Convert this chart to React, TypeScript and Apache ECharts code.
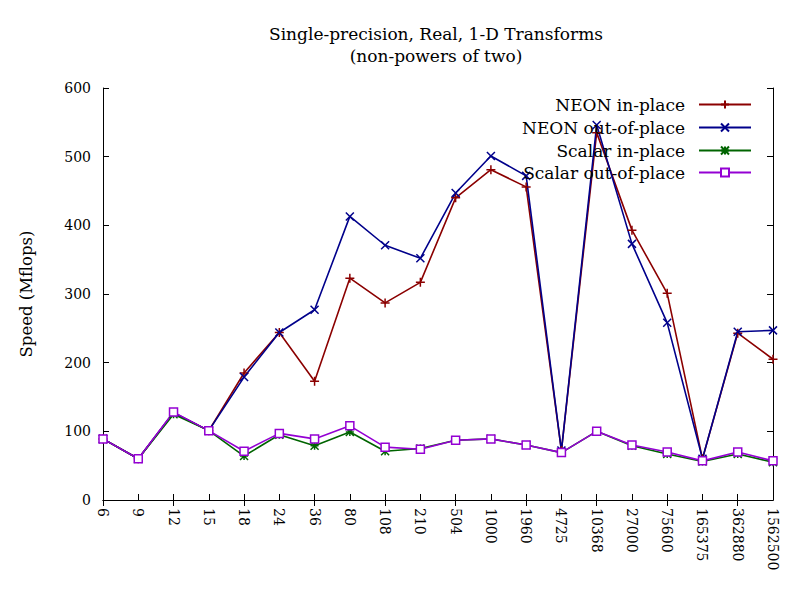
import React, { useEffect, useRef } from "react";
import * as echarts from "echarts";

const categories = ["6", "9", "12", "15", "18", "24", "36", "80", "108", "210", "504", "1000", "1960", "4725", "10368", "27000", "75600", "165375", "362880", "1562500"];
const neonInPlace = [89, 60, 127, 101, 185, 244, 173, 323, 287, 317, 440, 481, 456, 72, 535, 393, 301, 60, 243, 205];
const neonOutOfPlace = [89, 60, 127, 101, 179, 244, 277, 413, 371, 352, 447, 501, 472, 72, 546, 373, 258, 60, 245, 247];
const scalarInPlace = [89, 60, 125, 101, 64, 95, 79, 99, 71, 75, 87, 89, 80, 69, 100, 79, 67, 56, 67, 55];
const scalarOutOfPlace = [89, 60, 128, 101, 71, 97, 89, 108, 77, 74, 87, 89, 80, 69, 100, 80, 70, 57, 70, 57];
const yTicks = { min: 0, max: 600, interval: 100 };

const FONT = "DejaVu Serif";

const PLUS = "path://M5 0L5 10M0 5L10 5";
const CROSS = "path://M0 0L10 10M10 0L0 10";
const STAR = "path://M0 0L10 10M10 0L0 10M5 0L5 10M0 5L10 5";

export default function App() {
  const ref = useRef<HTMLDivElement>(null);
  useEffect(() => {
    if (!ref.current) return;
    const chart = echarts.init(ref.current, null, { renderer: "svg" });
    const mk = (name: string, data: number[], color: string, symbol: string, size: number, empty = false) => ({
      name,
      type: "line",
      data,
      symbol,
      symbolSize: size,
      showSymbol: true,
      lineStyle: { color, width: 1.6 },
      itemStyle: { color: empty ? "#ffffff" : color, borderColor: color, borderWidth: 1.5 },
      emphasis: { disabled: true },
    });
    const series = [
      mk("NEON in-place", neonInPlace, "#8b0000", PLUS, 9),
      mk("NEON out-of-place", neonOutOfPlace, "#00008b", CROSS, 8),
      mk("Scalar in-place", scalarInPlace, "#006400", STAR, 8),
      mk("Scalar out-of-place", scalarOutOfPlace, "#9400d3", "rect", 8, true),
    ];
    const legendTops = [91, 114, 137, 159];
    const legends = series.map((s, i) => ({
      data: [s.name],
      right: 43,
      top: legendTops[i],
      align: "right",
      orient: "vertical",
      itemWidth: 52,
      itemHeight: 10,
      itemGap: 10,
      textStyle: { fontFamily: FONT, fontSize: 17, color: "#000", padding: [0, 9, 0, 0] },
      selectedMode: false,
    }));
    const axisCommon = {
      axisLine: { show: true, lineStyle: { color: "#000", width: 1 } },
      splitLine: { show: false },
    };
    chart.setOption({
      animation: false,
      backgroundColor: "#fff",
      title: {
        text: "Single-precision, Real, 1-D Transforms\n(non-powers of two)",
        left: 431,
        top: 18,
        textAlign: "center",
        textStyle: { fontFamily: FONT, fontSize: 17, fontWeight: "normal", color: "#000", lineHeight: 22 },
      },
      legend: legends,
      grid: { left: 103, right: 27, top: 88, bottom: 100, containLabel: false },
      xAxis: [
        {
          type: "category",
          data: categories,
          boundaryGap: false,
          position: "bottom",
          ...axisCommon,
          axisTick: { show: true, inside: true, length: 6, lineStyle: { color: "#000" } },
          axisLabel: { interval: 0, rotate: -90, fontFamily: FONT, fontSize: 14, color: "#000", margin: 8 },
        },
        {
          type: "category",
          data: categories,
          boundaryGap: false,
          position: "top",
          ...axisCommon,
          axisTick: { show: true, inside: true, length: 6, lineStyle: { color: "#000" } },
          axisLabel: { show: false },
        },
      ],
      yAxis: [
        {
          type: "value",
          ...yTicks,
          position: "left",
          ...axisCommon,
          axisTick: { show: true, inside: true, length: 6, lineStyle: { color: "#000" } },
          axisLabel: { fontFamily: FONT, fontSize: 14, color: "#000", margin: 12 },
          name: "Speed (Mflops)",
          nameLocation: "middle",
          nameRotate: 90,
          nameGap: 68,
          nameTextStyle: { fontFamily: FONT, fontSize: 16.5, color: "#000" },
        },
        {
          type: "value",
          ...yTicks,
          position: "right",
          ...axisCommon,
          axisTick: { show: true, inside: true, length: 6, lineStyle: { color: "#000" } },
          axisLabel: { show: false },
        },
      ],
      series,
    });
    return () => chart.dispose();
  }, []);
  return <div ref={ref} style={{ width: 800, height: 600, position: "absolute", left: 0, top: 0 }} />;
}
